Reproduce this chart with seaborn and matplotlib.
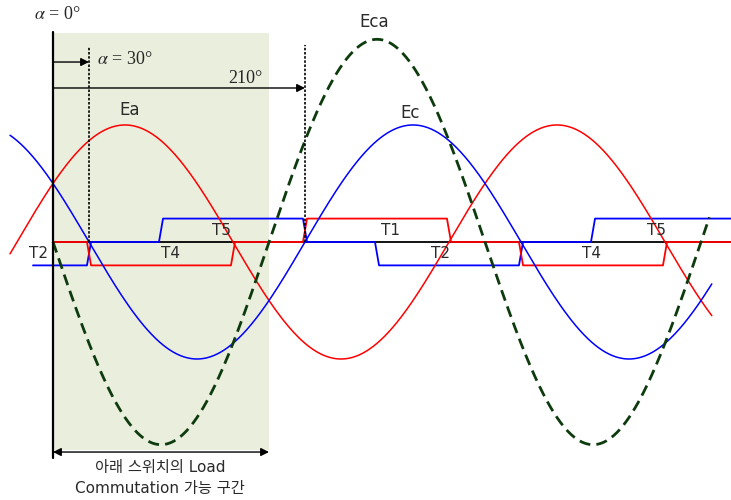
import numpy as np
import pandas as pd
import matplotlib
matplotlib.use("Agg")
import matplotlib.pyplot as plt
import seaborn as sns

sns.set_theme(style="white")
plt.rcParams["font.family"] = ["DejaVu Sans", "Noto Sans CJK KR"]
plt.rcParams["mathtext.fontset"] = "stix"

# Phase voltages (unit amplitude), phase offsets in electrical degrees
ea_phase = 30.0
ec_phase = 150.0
eca_amp = np.sqrt(3.0)          # line voltage Eca = Ec - Ea

# Switching angles (deg) and gate-state levels for the two switch groups
blue_switch = [30, 90, 210, 270, 390, 450]
blue_levels = [-1, 0, 1, 0, -1, 0, 1]
red_switch = [30, 150, 210, 330, 390, 510]
red_levels = [0, -1, 0, 1, 0, -1, 0]
pulse_height = 0.2

# Conduction labels: (name, angle, level)
pulse_labels = [("T2", -12.5, -1), ("T4", 97.5, -1), ("T5", 140, 1),
                ("T1", 281, 1), ("T2", 323, -1), ("T4", 449, -1), ("T5", 503, 1)]

alpha_start = 0
alpha_fire = 30
commutation_end = 210
window_end = 180

RED = "#ff0000"
BLUE = "#0000ff"
GREEN = "#0d3b0d"
SHADE = "#eaeedd"
TXT = "#2a2a2a"

fig = plt.figure(figsize=(7.31, 5.0), dpi=100)
ax = fig.add_axes([0, 0, 1, 1])
ax.set_xlim(-44.17, 565)
ax.set_ylim(-2.205, 2.068)
ax.axis("off")

# shaded load-commutation window
ax.fill_between([alpha_start, window_end], -1.778, 1.786, color=SHADE, lw=0, zorder=0)


def pulse_trace(start, end, switches, levels, ramp=1.7):
    xs, ys = [start], [levels[0] * pulse_height]
    for s, a, b in zip(switches, levels[:-1], levels[1:]):
        xs += [s - ramp, s + ramp]
        ys += [a * pulse_height, b * pulse_height]
    xs.append(end)
    ys.append(levels[-1] * pulse_height)
    return pd.DataFrame({"theta": xs, "v": ys})


# reference baseline
ax.plot([alpha_start, 565], [0, 0], color="black", lw=1.3, zorder=1)

bt = pulse_trace(-16.7, 565, blue_switch, blue_levels)
rt = pulse_trace(0, 565, red_switch, red_levels)
sns.lineplot(data=bt, x="theta", y="v", color=BLUE, lw=1.3, sort=False,
             estimator=None, ax=ax, zorder=3)
sns.lineplot(data=rt, x="theta", y="v", color=RED, lw=1.3, sort=False,
             estimator=None, ax=ax, zorder=3)

# sinusoids
th = np.linspace(-35.8, 549, 800)
ea = pd.DataFrame({"theta": th, "v": np.sin(np.radians(th + ea_phase))})
ec = pd.DataFrame({"theta": th, "v": np.sin(np.radians(th + ec_phase))})
th2 = np.linspace(0, 547, 800)
eca = pd.DataFrame({"theta": th2, "v": -eca_amp * np.sin(np.radians(th2))})
sns.lineplot(data=ea, x="theta", y="v", color=RED, lw=1.1, ax=ax, zorder=4)
sns.lineplot(data=ec, x="theta", y="v", color=BLUE, lw=1.1, ax=ax, zorder=4)
sns.lineplot(data=eca, x="theta", y="v", color=GREEN, lw=2.0, ax=ax, zorder=4,
             dashes=False, linestyle=(0, (4.0, 2.2)))

# vertical markers
ax.plot([alpha_start, alpha_start], [-1.846, 1.795], color="black", lw=1.6, zorder=5)
ax.plot([alpha_fire, alpha_fire], [0, 1.667], color="black", lw=1.2,
        linestyle=(0, (1.5, 1.0)), zorder=5)
ax.plot([commutation_end, commutation_end], [0, 1.684], color="black", lw=1.2,
        linestyle=(0, (1.5, 1.0)), zorder=5)

arrow = dict(arrowstyle="-|>", color="black", lw=1.0, mutation_scale=12,
             shrinkA=0, shrinkB=0)
ax.annotate("", xy=(alpha_fire, 1.538), xytext=(alpha_start, 1.538), arrowprops=arrow)
ax.annotate("", xy=(commutation_end, 1.316), xytext=(alpha_start, 1.316), arrowprops=arrow)
ax.annotate("", xy=(window_end, -1.795), xytext=(alpha_start, -1.795),
            arrowprops=dict(arrowstyle="<|-|>", color="black", lw=1.0,
                            mutation_scale=12, shrinkA=0, shrinkB=0))

serif = ["Liberation Serif", "DejaVu Serif"]
ax.text(3.3, 1.94, r"$\alpha$ = 0°", family=serif, fontsize=13, ha="center", va="center")
ax.text(36.7, 1.556, r"$\alpha$ = 30°", family=serif, fontsize=13, ha="left", va="center")
ax.text(160, 1.40, "210°", family=serif, fontsize=13, ha="center", va="center")

ax.text(64, 1.128, "Ea", fontsize=12, color=TXT, ha="center", va="center")
ax.text(297.5, 1.10, "Ec", fontsize=12, color=TXT, ha="center", va="center")
ax.text(268, 1.88, "Eca", fontsize=12, color=TXT, ha="center", va="center")

for name, ang, lvl in pulse_labels:
    ax.text(ang, lvl * 0.1, name, fontsize=11, color=TXT, ha="center", va="center", zorder=6)

ax.text(89, -1.93, "아래 스위치의 Load", fontsize=11, color=TXT, ha="center", va="center")
ax.text(89, -2.11, "Commutation 가능 구간", fontsize=11, color=TXT, ha="center", va="center")

fig.savefig("out.png", dpi=100)
